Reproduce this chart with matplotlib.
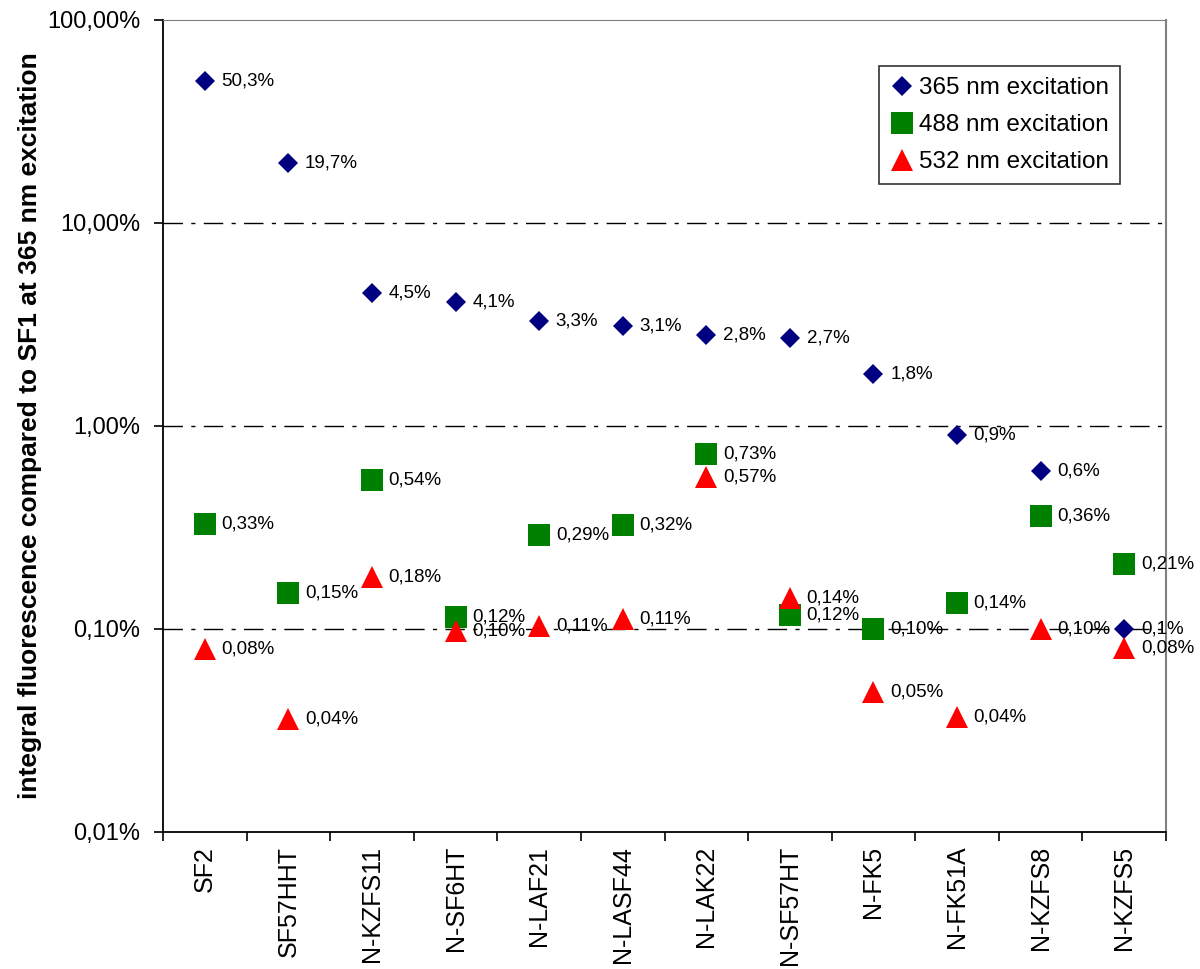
import numpy as np
import matplotlib.pyplot as plt
from matplotlib.ticker import FixedLocator, NullLocator

plt.rcParams["font.family"] = ["Liberation Sans", "DejaVu Sans"]

# ── DATA ──────────────────────────────────────────────────────
glasses = ["SF2", "SF57HHT", "N-KZFS11", "N-SF6HT", "N-LAF21", "N-LASF44",
           "N-LAK22", "N-SF57HT", "N-FK5", "N-FK51A", "N-KZFS8", "N-KZFS5"]

# values in percent of SF1 at 365 nm
exc_365 = [50.3, 19.7, 4.5, 4.1, 3.3, 3.1, 2.8, 2.7, 1.8, 0.9, 0.6, 0.1]
exc_488 = [0.33, 0.15, 0.54, 0.115, 0.29, 0.325, 0.73, 0.117, 0.10, 0.134, 0.36, 0.21]
exc_532 = [0.08, 0.036, 0.18, 0.098, 0.104, 0.112, 0.56, 0.142, 0.049, 0.037, 0.10, 0.081]

lbl_365 = ["50,3%", "19,7%", "4,5%", "4,1%", "3,3%", "3,1%", "2,8%", "2,7%",
           "1,8%", "0,9%", "0,6%", "0,1%"]
lbl_488 = ["0,33%", "0,15%", "0,54%", "0,12%", "0,29%", "0,32%", "0,73%",
           "0,12%", "0,10%", "0,14%", "0,36%", "0,21%"]
lbl_532 = ["0,08%", "0,04%", "0,18%", "0,10%", "0,11%", "0,11%", "0,57%",
           "0,14%", "0,05%", "0,04%", "0,10%", "0,08%"]

ytick_vals = [0.01, 0.1, 1, 10, 100]
ytick_lbls = ["0,01%", "0,10%", "1,00%", "10,00%", "100,00%"]

# ── PLOT ──────────────────────────────────────────────────────
fig = plt.figure(figsize=(12, 9.69), dpi=100)
ax = fig.add_axes([0.1358, 0.1414, 0.8359, 0.838])

x = np.arange(len(glasses))

series = [
    (exc_365, lbl_365, "D", "#000080", 10, "365 nm excitation"),
    (exc_488, lbl_488, "s", "#008000", 15.5, "488 nm excitation"),
    (exc_532, lbl_532, "^", "#ff0000", 16, "532 nm excitation"),
]

for vals, lbls, mk, col, ms, name in series:
    ax.plot(x, vals, linestyle="none", marker=mk, color=col,
            markersize=ms, markeredgewidth=0, label=name, zorder=3)
    for xi, v, t in zip(x, vals, lbls):
        ax.annotate(t, (xi, v), xytext=(12, 0), textcoords="offset points",
                    va="center", ha="left", fontsize=13.5, zorder=4)

# dash-dot gridlines at the decades
for g in ytick_vals[1:-1]:
    ax.axhline(g, color="black", lw=1, dashes=(14, 6, 3, 6), zorder=1)

ax.set_yscale("log")
ax.set_ylim(0.01, 100)
ax.set_xlim(-0.5, len(glasses) - 0.5)

ax.yaxis.set_major_locator(FixedLocator(ytick_vals))
ax.yaxis.set_minor_locator(NullLocator())
ax.set_yticklabels(ytick_lbls, fontsize=17)

# ticks between categories, labels at category centres
ax.xaxis.set_major_locator(FixedLocator(np.arange(-0.5, len(glasses), 1.0)))
ax.xaxis.set_minor_locator(FixedLocator(x))
ax.set_xticklabels([])
ax.set_xticklabels(glasses, minor=True, rotation=90, fontsize=18)
ax.tick_params(axis="x", which="minor", length=0, pad=10)
ax.tick_params(axis="both", which="major", length=6.5, width=1.2, direction="out")
ax.tick_params(axis="y", which="major", pad=10)

ax.spines["left"].set_linewidth(1.3)
ax.spines["bottom"].set_linewidth(1.3)
ax.spines["top"].set_color("#808080")
ax.spines["right"].set_color("#808080")
ax.spines["right"].set_linewidth(1.5)

ax.set_ylabel("integral fluorescence compared to SF1 at 365 nm excitation",
              fontsize=19, fontweight="bold")
ax.yaxis.set_label_coords(-0.121, 0.5)

leg = ax.legend(loc="upper right", bbox_to_anchor=(0.954, 0.943), fontsize=17.5,
                frameon=True, fancybox=False, edgecolor="black",
                handletextpad=0.2, handlelength=1.0, borderpad=0.45,
                labelspacing=0.62, borderaxespad=0)
leg.get_frame().set_linewidth(1.2)

fig.savefig("out.png", dpi=100, facecolor="white")
